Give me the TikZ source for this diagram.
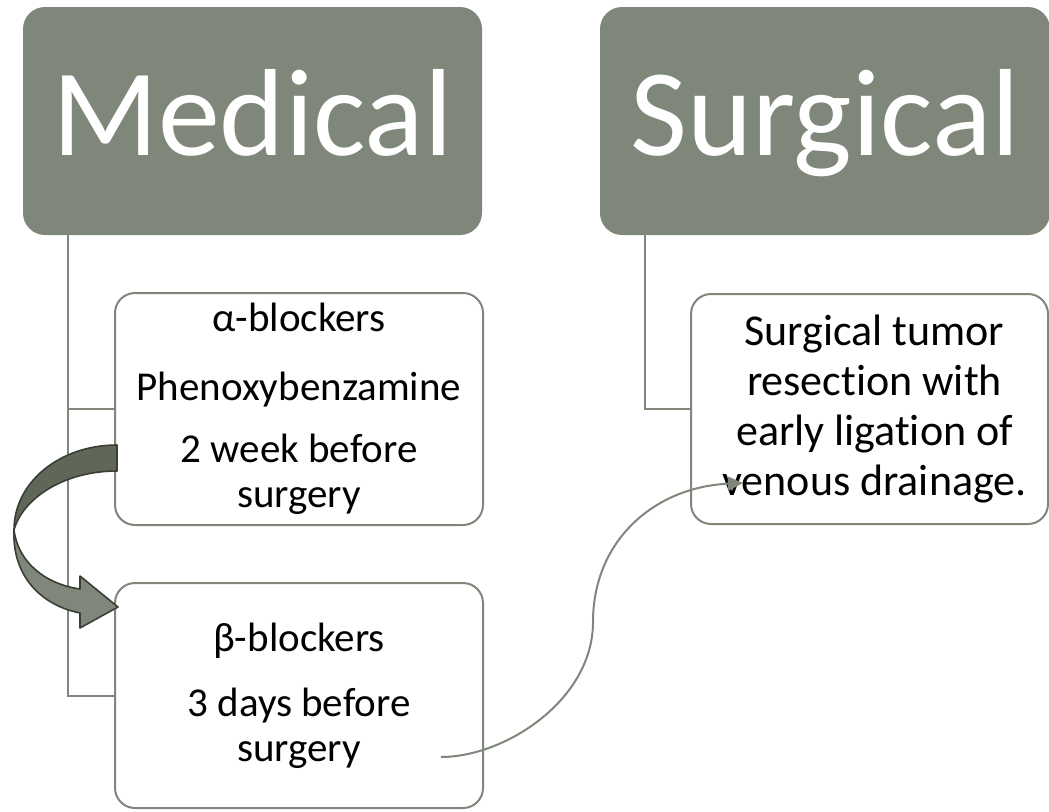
\documentclass[tikz,border=0pt]{standalone}
\usepackage{fontspec}
\setmainfont{Carlito}[Ligatures=CommonOff]
\usetikzlibrary{arrows.meta}
\definecolor{sage}{RGB}{127,134,122}
\definecolor{sagedark}{RGB}{95,103,88}
\definecolor{sageline}{RGB}{58,63,54}
\tikzset{
  header/.style={fill=sage, rounded corners=22pt, text=white, inner sep=0pt,
    font=\fontsize{124}{130}\selectfont, text height=80pt, text depth=12pt},
  childbox/.style={draw=sage, line width=2pt, fill=white, rounded corners=20pt,
    align=center, inner sep=0pt, font=\fontsize{41}{45}\selectfont},
  conn/.style={draw=sage, line width=2pt},
  thinarrow/.style={draw=sage, line width=2pt, -{Triangle[length=15pt,width=14pt]}},
  blockarrow/.style={draw=sageline, line width=1.6pt, line join=round},
}
\begin{document}
\begin{tikzpicture}[x=1pt,y=-1pt]
\useasboundingbox (0,0) rectangle (1049,811);
\begin{scope}
\clip (0,0) rectangle (1049,811);
% headers
\node[header, minimum width=459pt, minimum height=228pt] (med) at (252.5,121) {Medical};
\node[header, minimum width=450pt, minimum height=228pt] (sur) at (825,121) {Surgical};
% connectors
\coordinate (m0) at (68,235);
\coordinate (s0) at (645,235);
\path[conn] (m0) |- (299,409) coordinate (b1c);
\path[conn] (m0) |- (299,696) coordinate (b2c);
\path[conn] (s0) |- (869,409) coordinate (b3c);
% child boxes
\node[childbox, minimum width=368pt, minimum height=232pt] (b1) at (299,409)
  {α-blockers\\[24pt]Phenoxybenzamine\\[17pt]2 week before\\surgery};
\node[childbox, minimum width=368pt, minimum height=225pt] (b2) at (299,695.5)
  {β-blockers\\[20pt]3 days before\\surgery};
\node[childbox, minimum width=357pt, minimum height=230pt, font=\fontsize{44}{50}\selectfont] (b3) at (869.5,409)
  {\hspace*{10pt}Surgical tumor\\\hspace*{10pt}resection with\\\hspace*{10pt}early ligation of\\\hspace*{10pt}venous drainage.};
% curved block arrow: back (dark) part
\path[blockarrow, fill=sagedark]
  (117,445) .. controls (60,445) and (14,482) .. (14,530)
  .. controls (22,500) and (62,471) .. (117,471) -- cycle;
% front (light) part with head
\path[blockarrow, fill=sage]
  (14,530) .. controls (18,562) and (45,584) .. (80,589)
  -- (80,576) -- (118,607) -- (80,628) -- (80,613)
  .. controls (40,605) and (12,575) .. (14,530) -- cycle;
% thin S arrow
\coordinate (t0) at (441,757);
\coordinate (t1) at (743,483);
\draw[thinarrow] (t0) .. controls (505,757) and (593,700) .. (593,622)
  .. controls (593,540) and (655,487) .. (t1);
\end{scope}
\end{tikzpicture}
\end{document}
